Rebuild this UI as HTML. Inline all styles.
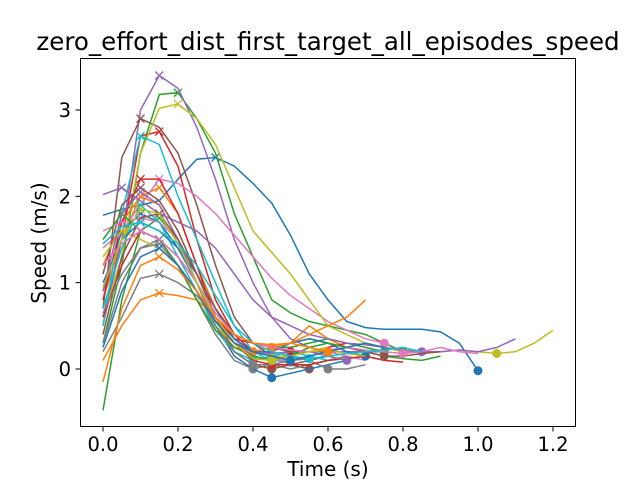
<!DOCTYPE html>
<html><head><meta charset="utf-8"><style>
html,body{margin:0;padding:0;background:#fff;}
svg{display:block;font-family:"DejaVu Sans","Liberation Sans",sans-serif;}
</style></head><body>
<svg id="chart" width="640" height="480" viewBox="0 0 640 480" xmlns="http://www.w3.org/2000/svg">
<rect x="0" y="0" width="640" height="480" fill="#fff"/>
<text x="328" y="50" font-size="24.5" text-anchor="middle">zero_effort_dist_first_target_all_episodes_speed</text>
<g id="plot"></g>
<rect x="80.5" y="58.5" width="495" height="368" fill="none" stroke="#000" stroke-width="1"/>
<g id="axes"></g>
<text x="328" y="476" font-size="20" text-anchor="middle">Time (s)</text>
<text x="46" y="243" font-size="20" text-anchor="middle" transform="rotate(-90 46 243)">Speed (m/s)</text>
</svg>
<script>
const xTicks = [0.0, 0.2, 0.4, 0.6, 0.8, 1.0, 1.2];
const xTickLabels = ["0.0", "0.2", "0.4", "0.6", "0.8", "1.0", "1.2"];
const yTicks = [0, 1, 2, 3];
const yTickLabels = ["0", "1", "2", "3"];
const timeStep = 0.05;
const colors = ["#1f77b4","#ff7f0e","#2ca02c","#d62728","#9467bd","#8c564b","#e377c2","#7f7f7f","#bcbd22","#17becf"];
const series = [
 [1.78,1.85,1.9,1.95,2.2,2.43,2.45,2.35,2.15,1.92,1.55,1.1,0.8,0.55,0.48,0.46,0.46,0.46,0.43,0.3,-0.02],
 [0.8,1.5,2.0,2.1,1.8,1.2,0.7,0.35,0.2,0.25,0.3,0.5,0.35,0.25],
 [0.3,1.2,2.5,3.18,3.2,2.9,2.5,1.8,1.3,0.8,0.65,0.55,0.5,0.45,0.4,0.3,0.2],
 [0.6,1.5,2.7,2.75,2.35,1.5,0.8,0.4,0.2,0.15,0.1,0.12],
 [0.5,1.5,3.0,3.4,3.25,2.8,2.2,1.5,1.0,0.6,0.35,0.25,0.2,0.2,0.2,0.2],
 [0.7,2.45,2.9,2.8,2.5,1.9,1.2,0.6,0.3,0.15,0.05,0.0],
 [1.4,1.6,1.9,2.2,2.15,2.0,1.8,1.55,1.3,1.05,0.85,0.7,0.55,0.45,0.35,0.3],
 [0.3,1.0,1.4,1.5,1.2,0.8,0.4,0.1,0.0,0.05,0.0,0.05,0.1,0.15],
 [0.6,1.3,2.5,3.02,3.07,2.9,2.6,2.1,1.6,1.35,1.1,0.8,0.5,0.4,0.3,0.25,0.2,0.2,0.2,0.22,0.2,0.18,0.2,0.3,0.45],
 [0.5,1.8,2.7,2.6,2.0,1.5,1.0,0.5,0.2,0.1,0.08],
 [0.9,1.6,1.8,1.7,1.4,1.0,0.5,0.15,0.0,-0.1,-0.05,0.0,0.05,0.1],
 [1.2,1.7,2.0,1.9,1.5,1.0,0.5,0.25,0.2,0.2,0.3,0.35,0.3,0.25,0.2],
 [-0.48,0.8,1.6,1.75,1.5,1.1,0.7,0.4,0.3,0.25,0.25,0.3,0.35,0.3,0.25,0.2],
 [0.8,1.7,2.2,2.2,1.8,1.2,0.6,0.35,0.3,0.25,0.2,0.2,0.25,0.3],
 [2.02,2.1,1.95,1.8,1.7,1.6,1.4,1.1,0.8,0.6,0.5,0.4,0.35,0.3,0.28,0.25,0.22,0.2,0.2,0.22,0.2,0.25,0.35],
 [1.1,1.9,2.1,1.95,1.6,1.1,0.6,0.2,0.05,0.0,0.05,0.1,0.15],
 [1.6,1.7,1.75,1.7,1.5,1.1,0.7,0.35,0.15,0.1,0.1,0.15,0.2,0.15,0.1],
 [0.2,0.6,1.05,1.1,1.0,0.85,0.6,0.3,0.15,0.1,0.15,0.1,0.0,0.0,0.05],
 [1.3,1.6,1.5,1.4,1.2,0.9,0.5,0.3,0.2,0.15,0.15,0.2,0.25],
 [0.7,1.4,1.9,1.7,1.3,0.9,0.45,0.2,0.1,0.15,0.2,0.15,0.1,0.12,0.15,0.1],
 [1.0,1.5,1.7,1.6,1.4,1.1,0.7,0.35,0.2,0.2,0.3,0.35,0.3,0.2,0.15],
 [0.1,0.5,0.8,0.88,0.85,0.8,0.6,0.4,0.3,0.25,0.3,0.4,0.5,0.6,0.8],
 [1.5,1.8,1.6,1.5,1.2,0.8,0.45,0.25,0.15,0.1,0.15,0.25,0.3,0.25,0.2,0.15,0.12,0.1,0.15],
 [0.6,1.2,1.6,1.5,1.3,1.0,0.6,0.3,0.1,0.05,0.05,0.05,0.1,0.12,0.15,0.1,0.08],
 [0.9,1.8,2.05,1.9,1.5,1.0,0.55,0.3,0.2,0.18,0.2,0.2,0.15,0.1],
 [0.4,1.3,1.75,1.8,1.5,1.1,0.7,0.4,0.3,0.25,0.2,0.2,0.2,0.25,0.2,0.15,0.15,0.18,0.2],
 [1.2,1.45,1.6,1.5,1.3,1.0,0.65,0.4,0.3,0.25,0.22,0.2,0.22,0.25,0.22,0.2,0.18,0.2,0.25,0.2,0.18],
 [0.65,1.1,1.4,1.45,1.2,0.9,0.5,0.2,0.05,0.05,0.1,0.12,0.15,0.1],
 [0.95,1.5,1.85,1.8,1.45,1.0,0.6,0.3,0.12,0.1,0.15,0.2,0.22,0.18,0.15],
 [1.45,1.65,1.7,1.6,1.45,1.2,0.85,0.5,0.3,0.2,0.15,0.12,0.15,0.18,0.2,0.22,0.25,0.2],
 [0.25,0.9,1.3,1.4,1.2,0.9,0.55,0.3,0.2,0.15,0.1,0.15,0.2,0.25,0.3,0.25],
 [-0.15,0.7,1.2,1.3,1.15,0.9,0.6,0.4,0.3,0.28,0.3,0.25,0.2]
];
const X0=103, XS=375, Y0=369, YS=86.33;
function xPx(t){return X0+t*XS;}
function yPx(v){return Y0-v*YS;}
const NS="http://www.w3.org/2000/svg";
const plot=document.getElementById('plot');
const axes=document.getElementById('axes');
const clip=document.createElementNS(NS,'clipPath');clip.setAttribute('id','cp');
const cr=document.createElementNS(NS,'rect');cr.setAttribute('x',80.5);cr.setAttribute('y',58.5);cr.setAttribute('width',495);cr.setAttribute('height',368);
clip.appendChild(cr);plot.appendChild(clip);plot.setAttribute('clip-path','url(#cp)');
series.forEach((s,i)=>{
  const c=colors[i%10];
  const pts=s.map((v,j)=>xPx(j*timeStep).toFixed(1)+','+yPx(v).toFixed(1)).join(' ');
  const pl=document.createElementNS(NS,'polyline');
  
  
  pl.setAttribute('points',pts);pl.setAttribute('fill','none');pl.setAttribute('stroke',c);pl.setAttribute('stroke-width','1.5');
  plot.appendChild(pl);
  let mi=0;s.forEach((v,j)=>{if(v>s[mi])mi=j;});
  let ni=mi;for(let j=mi;j<s.length;j++){if(s[j]<s[ni])ni=j;}
  const px=xPx(mi*timeStep),py=yPx(s[mi]);
  const xm=document.createElementNS(NS,'path');
  
  
  xm.setAttribute('d',`M${px-4},${py-4}L${px+4},${py+4}M${px-4},${py+4}L${px+4},${py-4}`);
  xm.setAttribute('stroke',c);xm.setAttribute('stroke-width','1.3');
  plot.appendChild(xm);
  const cm=document.createElementNS(NS,'circle');
  
  
  cm.setAttribute('cx',xPx(ni*timeStep));cm.setAttribute('cy',yPx(s[ni]));cm.setAttribute('r','4.5');cm.setAttribute('fill',c);
  plot.appendChild(cm);
});
xTicks.forEach((t,i)=>{
  const x=xPx(t);
  const l=document.createElementNS(NS,'line');
  
  
  l.setAttribute('x1',x);l.setAttribute('x2',x);l.setAttribute('y1',426.5);l.setAttribute('y2',431.5);l.setAttribute('stroke','#000');
  axes.appendChild(l);
  const tx=document.createElementNS(NS,'text');
  
  
  tx.setAttribute('x',x);tx.setAttribute('y',451);tx.setAttribute('font-size','19.5');tx.setAttribute('text-anchor','middle');
  tx.textContent=xTickLabels[i];axes.appendChild(tx);
});
yTicks.forEach((v,i)=>{
  const y=yPx(v);
  const l=document.createElementNS(NS,'line');
  
  
  l.setAttribute('x1',75.5);l.setAttribute('x2',80.5);l.setAttribute('y1',y);l.setAttribute('y2',y);l.setAttribute('stroke','#000');
  axes.appendChild(l);
  const tx=document.createElementNS(NS,'text');
  
  
  tx.setAttribute('x',71);tx.setAttribute('y',y+7);tx.setAttribute('font-size','19.5');tx.setAttribute('text-anchor','end');
  tx.textContent=yTickLabels[i];axes.appendChild(tx);
});
</script>
</body></html>
